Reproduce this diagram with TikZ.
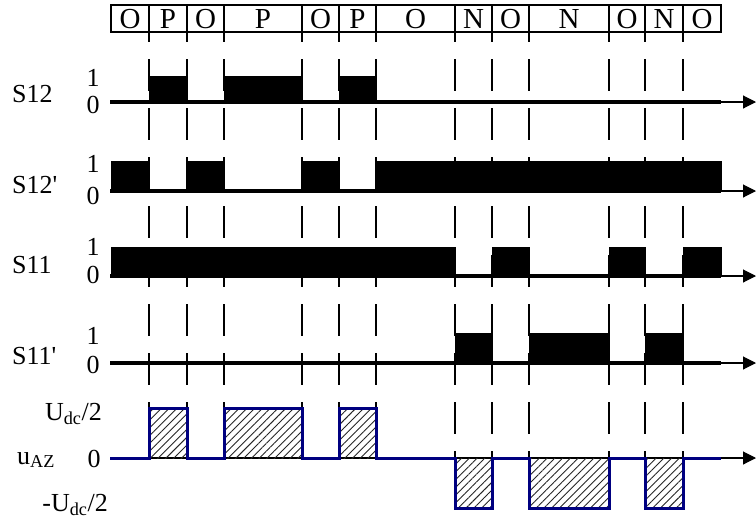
\documentclass[tikz,border=0pt]{standalone}
\usepackage{fontspec}
\setmainfont{Liberation Serif}
\usetikzlibrary{arrows.meta,patterns.meta}
\definecolor{navy}{RGB}{0,0,128}
\tikzset{
  boxline/.style={line width=1.6pt},
  cell/.style={font=\fontsize{29}{31}\selectfont, inner sep=0pt},
  lbl/.style={font=\fontsize{26}{28}\selectfont, inner sep=0pt},
  pulse/.style={fill=black, draw=black, line width=1pt},
  axisline/.style={line width=3.4pt},
  tail/.style={line width=1.1pt, -{Triangle[length=13pt,width=13pt]}},
  vline/.style={line width=1.9pt, dash pattern=on 32pt off 17pt, dash phase=22pt},
  hatch/.style={pattern={Lines[angle=45,distance=5.5pt,line width=0.9pt]}, pattern color=black!85},
  wave/.style={draw=navy, line width=3pt, line join=miter}
}
\begin{document}
\begin{tikzpicture}[x=1pt,y=-1pt]
\useasboundingbox (0,0) rectangle (756,523);

% top state row
\foreach \a/\b/\t [count=\i] in {111/149/O,149/187/P,187/224/O,224/302/P,302/339/O,339/376/P,376/455/O,455/492/N,492/529/O,529/609/N,609/645/O,645/683/N,683/721/O}{
  \draw[boxline] (\a,5) rectangle (\b,32);
  \node[cell] (c\i) at ({(\a+\b)/2},19) {\t};
}

% dashed vertical lines
\foreach \x in {149,187,224,302,339,376,455,492,529,609,645,683}
  \draw[vline] (\x,32) -- (\x,458);

% S12
\foreach \a/\b in {149/187,224/302,339/376}
  \draw[pulse] (\a,76) rectangle (\b,102);
\draw[axisline] (110,102) -- (721,102);
\coordinate (e1) at (721,102); \coordinate (t1) at (756,102);
\draw[tail] (e1) -- (t1);

% S12'
\foreach \a/\b in {111/149,187/224,302/339,376/721}
  \draw[pulse] (\a,161) rectangle (\b,191);
\draw[axisline] (110,191) -- (721,191);
\coordinate (e2) at (721,191); \coordinate (t2) at (756,191);
\draw[tail] (e2) -- (t2);

% S11
\foreach \a/\b in {111/455,492/529,609/645,683/721}
  \draw[pulse] (\a,247) rectangle (\b,276);
\draw[axisline] (110,276) -- (721,276);
\coordinate (e3) at (721,276); \coordinate (t3) at (756,276);
\draw[tail] (e3) -- (t3);

% S11'
\foreach \a/\b in {455/492,529/609,645/683}
  \draw[pulse] (\a,333) rectangle (\b,363);
\draw[axisline] (110,363) -- (721,363);
\coordinate (e4) at (721,363); \coordinate (t4) at (756,363);
\draw[tail] (e4) -- (t4);

% u_AZ
\coordinate (s5) at (110,458); \coordinate (t5) at (756,458);
\draw[tail] (s5) -- (t5);
\foreach \a/\b in {149/187,224/302,339/376}
  \fill[hatch] (\a,408) rectangle (\b,458);
\foreach \a/\b in {455/492,529/609,645/683}
  \fill[hatch] (\a,458) rectangle (\b,508);
\draw[wave] (110,458) -- (149,458) -- (149,408) -- (187,408) -- (187,458)
  -- (224,458) -- (224,408) -- (302,408) -- (302,458)
  -- (339,458) -- (339,408) -- (376,408) -- (376,458)
  -- (455,458) -- (455,508) -- (492,508) -- (492,458)
  -- (529,458) -- (529,508) -- (609,508) -- (609,458)
  -- (645,458) -- (645,508) -- (683,508) -- (683,458) -- (721,458);

% labels
\node[lbl, anchor=west] (l1) at (12,94) {S12};
\node[lbl] (l1a) at (93,78) {1};
\node[lbl] (l1b) at (93,105) {0};
\node[lbl, anchor=west] (l2) at (12,185) {S12\textquotesingle};
\node[lbl] (l2a) at (93,164) {1};
\node[lbl] (l2b) at (93,196) {0};
\node[lbl, anchor=west] (l3) at (12,265) {S11};
\node[lbl] (l3a) at (93,247) {1};
\node[lbl] (l3b) at (93,275) {0};
\node[lbl, anchor=west] (l4) at (12,356) {S11\textquotesingle};
\node[lbl] (l4a) at (93,336) {1};
\node[lbl] (l4b) at (93,365) {0};
\node[lbl, anchor=base east] (l5) at (102,420) {U\textsubscript{dc}/2};
\node[lbl, anchor=base west] (l6) at (17,464) {u\textsubscript{AZ}};
\node[lbl] (l6a) at (94,459) {0};
\node[lbl, anchor=base east] (l7) at (108,511) {-U\textsubscript{dc}/2};
\end{tikzpicture}
\end{document}
